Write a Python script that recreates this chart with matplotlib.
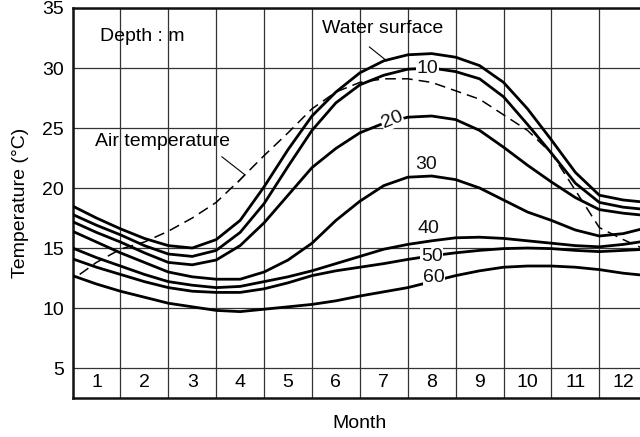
import matplotlib.pyplot as plt
import numpy as np

plt.rcParams["font.family"] = ["Liberation Sans", "DejaVu Sans"]

month_labels = [str(m) for m in range(1, 13)]

# positions along the month axis, month k spans [k-1, k]
t = np.arange(0, 12.01, 0.5)

surface = [18.5, 17.5, 16.6, 15.8, 15.2, 15.0, 15.7, 17.3, 20.1, 23.2, 26.0, 28.0, 29.6,
           30.6, 31.1, 31.2, 30.9, 30.2, 28.8, 26.6, 24.0, 21.3, 19.4, 19.0, 18.8]
depth_10 = [17.8, 16.9, 16.1, 15.2, 14.5, 14.3, 14.8, 16.3, 18.7, 21.8, 24.8, 27.1, 28.6,
            29.4, 29.9, 30.0, 29.7, 29.1, 27.6, 25.3, 22.9, 20.4, 18.8, 18.4, 18.2]
depth_20 = [17.2, 16.3, 15.5, 14.6, 13.8, 13.6, 14.0, 15.2, 17.1, 19.4, 21.7, 23.3, 24.6,
            25.4, 25.9, 26.0, 25.7, 24.8, 23.4, 21.9, 20.5, 19.2, 18.2, 17.9, 17.7]
depth_30 = [16.4, 15.5, 14.6, 13.8, 13.0, 12.6, 12.4, 12.4, 13.0, 14.0, 15.4, 17.3, 18.9,
            20.2, 20.9, 21.0, 20.7, 20.0, 19.0, 18.0, 17.3, 16.5, 16.0, 16.2, 16.7]
depth_40 = [15.0, 14.2, 13.5, 12.8, 12.2, 11.9, 11.7, 11.8, 12.2, 12.6, 13.1, 13.7, 14.3,
            14.9, 15.3, 15.6, 15.85, 15.9, 15.8, 15.6, 15.4, 15.2, 15.1, 15.3, 15.6]
depth_50 = [14.1, 13.4, 12.8, 12.2, 11.7, 11.4, 11.3, 11.3, 11.6, 12.1, 12.7, 13.1, 13.4,
            13.7, 14.05, 14.35, 14.6, 14.8, 14.95, 15.0, 14.95, 14.8, 14.7, 14.8, 14.9]
depth_60 = [12.7, 12.0, 11.4, 10.9, 10.4, 10.1, 9.8, 9.7, 9.9, 10.1, 10.3, 10.6, 11.0,
            11.35, 11.7, 12.2, 12.7, 13.1, 13.4, 13.5, 13.5, 13.4, 13.2, 12.9, 12.7]

air_t = [0.15, 0.5, 1.0, 1.5, 2.0, 2.5, 3.0, 3.5, 4.0, 4.5, 5.0, 5.5, 6.0,
         6.5, 7.0, 7.5, 8.0, 8.5, 9.0, 9.5, 10.0, 10.5, 11.0, 11.5, 12.0]
air = [12.8, 13.8, 14.9, 15.5, 16.4, 17.5, 18.8, 20.7, 22.7, 24.6, 26.6, 28.0, 28.8,
       29.1, 29.1, 28.8, 28.1, 27.4, 26.1, 24.8, 22.9, 19.8, 16.7, 15.7, 14.8]

fig = plt.figure(figsize=(6.4, 4.37), dpi=100)
ax = fig.add_axes([0.1133, 0.0892, 0.898, 0.8925])

for ys in [surface, depth_10, depth_20, depth_30, depth_40, depth_50, depth_60]:
    ax.plot(t, ys, color="black", lw=2.0, solid_capstyle="round",
            solid_joinstyle="round", zorder=3)
ax.plot(air_t, air, color="black", lw=1.1, linestyle=(0, (7, 4)), zorder=3)

# depth labels sitting on / above their curves
lab = dict(fontsize=14, color="#111111", ha="center", va="center", zorder=5)
gap = dict(facecolor="white", edgecolor="none", pad=0.3)
ax.text(7.41, 29.95, "10", bbox=gap, **lab)
ax.text(6.67, 25.7, "20", rotation=22, bbox=gap, **lab)
ax.text(7.38, 22.0, "30", **lab)
ax.text(7.44, 16.6, "40", **lab)
ax.text(7.50, 14.33, "50", bbox=gap, **lab)
ax.text(7.55, 12.54, "60", bbox=gap, **lab)

ax.text(0.57, 32.6, "Depth : m", fontsize=14, ha="left", va="center", zorder=5)
ax.text(0.47, 23.9, "Air temperature", fontsize=14, ha="left", va="center", zorder=5)
ax.plot([3.12, 3.60, 3.46], [22.6, 21.1, 20.5], color="black", lw=0.8, zorder=4)
ax.text(5.2, 33.3, "Water surface", fontsize=14, ha="left", va="center", zorder=5)
ax.plot([6.2, 6.56], [31.75, 30.6], color="black", lw=0.8, zorder=4)

# month numbers in the strip below 5 degrees
for i, name in enumerate(month_labels):
    ax.text(i + 0.5, 3.8, name, fontsize=14, ha="center", va="center")

ax.set_xlim(0, 12)
ax.set_ylim(2.5, 35)
ax.set_xticks(range(13))
ax.set_xticklabels([])
ax.set_yticks(range(5, 36, 5))
ax.tick_params(axis="both", length=0, labelsize=14, pad=6)
ax.grid(True, color="#333333", lw=0.9)
ax.set_axisbelow(True)
for side in ["left", "bottom", "top"]:
    ax.spines[side].set_linewidth(1.8)
    ax.spines[side].set_color("#111111")

ax.set_xlabel("Month", fontsize=14, labelpad=6)
ax.set_ylabel("Temperature (\u00b0C)", fontsize=14, labelpad=10)

fig.savefig("out.png", dpi=100)
